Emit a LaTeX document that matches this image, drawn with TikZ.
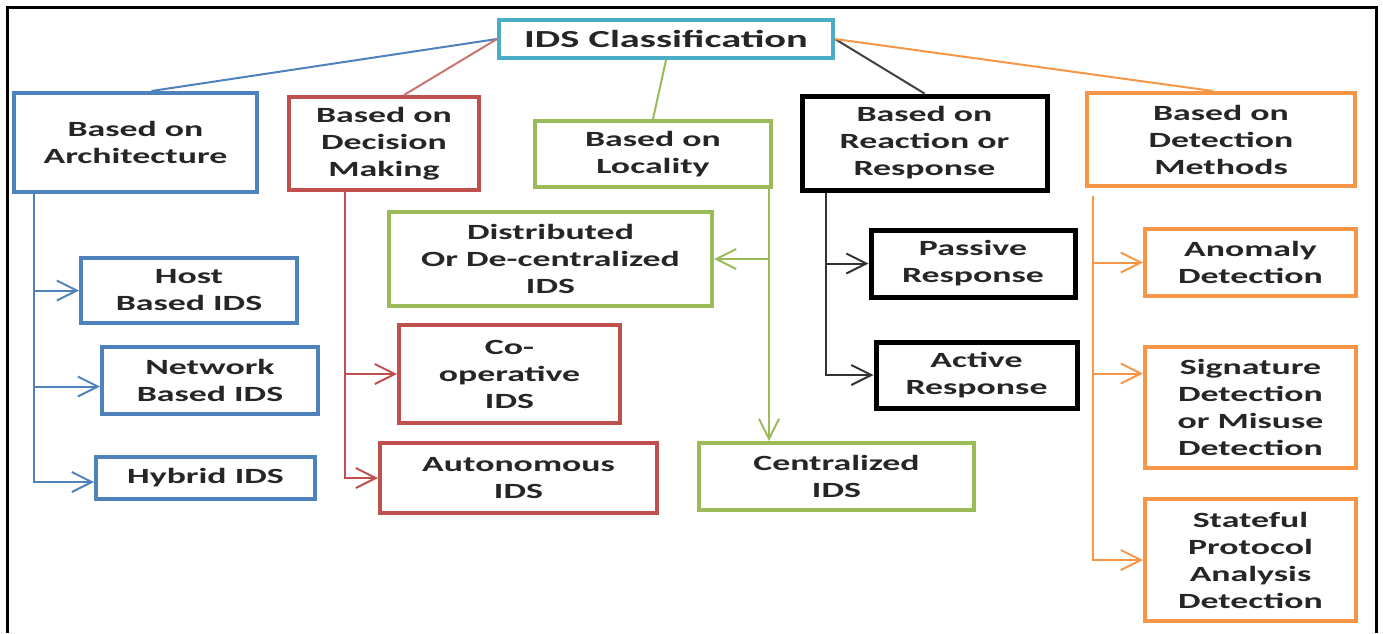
\documentclass[tikz,border=0pt]{standalone}
\usepackage{fontspec}
\setmainfont{Carlito}[FakeStretch=1.65]
\usetikzlibrary{arrows.meta}
\definecolor{archblue}{HTML}{4F81BD}
\definecolor{decred}{HTML}{C0504D}
\definecolor{locgreen}{HTML}{9BBB59}
\definecolor{detorange}{HTML}{F79646}
\definecolor{rootcyan}{HTML}{4BACC6}

\begin{document}
\begin{tikzpicture}[x=0.5pt, y=-0.5pt,
    box/.style={draw, line width=2pt, align=center, inner sep=0pt, text=black!85,
        font=\bfseries\fontsize{10.85}{13.5}\selectfont},
    link/.style={line width=1pt},
    tip/.style={link, -{Straight Barb[length=10pt,width=10pt]}}]
    \useasboundingbox (0,0) rectangle (1383,633);
    \draw[line width=1.5pt] (7,633) -- (7,7) -- (1376,7) -- (1376,633);

    % root and the five groups
    \node[box, draw=rootcyan, minimum width=167pt, minimum height=19pt,
          font=\bfseries\fontsize{12.25}{14}\selectfont] (root) at (666,39) {IDS Classification};
    \node[box, draw=archblue, minimum width=121.5pt, minimum height=49.5pt] (arch) at (135.5,142.5) {Based on\\Architecture};
    \node[box, draw=decred, minimum width=95pt, minimum height=46.5pt] (dec) at (384,143.5) {Based on\\Decision\\Making};
    \node[box, draw=locgreen, minimum width=118pt, minimum height=33pt] (loc) at (653,154) {Based on\\Locality};
    \node[box, draw=black, line width=2.5pt, minimum width=122.5pt, minimum height=47pt] (react) at (924.5,143) {Based on\\Reaction or\\Response};
    \node[box, draw=detorange, minimum width=134pt, minimum height=46.5pt] (detm) at (1221,139.5) {Based on\\Detection\\Methods};

    % leaves
    \node[box, draw=archblue, minimum width=108pt, minimum height=32.5pt] (host) at (189,290.5) {Host\\Based IDS};
    \node[box, draw=archblue, minimum width=108pt, minimum height=33.5pt] (net) at (210,380.5) {Network\\Based IDS};
    \node[box, draw=archblue, minimum width=109.5pt, minimum height=21pt] (hyb) at (205.5,478) {Hybrid IDS};
    \node[box, draw=locgreen, minimum width=161.5pt, minimum height=47pt] (dist) at (550.5,259) {Distributed\\Or De-centralized\\IDS};
    \node[box, draw=decred, minimum width=110.5pt, minimum height=49pt] (coop) at (509.5,374) {Co-\\operative\\IDS};
    \node[box, draw=decred, minimum width=138.5pt, minimum height=35pt] (auto) at (518.5,478) {Autonomous\\IDS};
    \node[box, draw=locgreen, minimum width=137.5pt, minimum height=33.5pt] (cent) at (836.5,476.5) {Centralized\\IDS};
    \node[box, draw=black, line width=2.5pt, minimum width=102pt, minimum height=33.5pt] (pass) at (973,263.5) {Passive\\Response};
    \node[box, draw=black, line width=2.5pt, minimum width=100.5pt, minimum height=33pt] (act) at (976.5,375) {Active\\Response};
    \node[box, draw=detorange, minimum width=105.5pt, minimum height=33.5pt] (anom) at (1250.5,262.5) {Anomaly\\Detection};
    \node[box, draw=detorange, minimum width=105.5pt, minimum height=60.5pt] (sig) at (1250.5,407.5) {Signature\\Detection\\or Misuse\\Detection};
    \node[box, draw=detorange, minimum width=105.5pt, minimum height=61pt] (stat) at (1250.5,560) {Stateful\\Protocol\\Analysis\\Detection};

    % links from the root
    \draw[link, archblue] (root.west) -- ([xshift=8pt]arch.north);
    \draw[link, decred!80] (root.west) -- ([xshift=10pt]dec.north);
    \draw[link, locgreen] (root.south) -- (loc.north);
    \draw[link, black!75] (root.east) -- (react.north);
    \draw[link, detorange] (root.east) -- ([xshift=-4pt]detm.north);

    % branches
    \coordinate (archT) at ([xshift=11pt]arch.south west);
    \draw[tip, archblue] (archT) |- (host.west);
    \draw[tip, archblue] (archT) |- ([yshift=-3pt]net.west);
    \draw[tip, archblue] (archT) |- ([yshift=-2pt]hyb.west);
    \coordinate (decT) at ([xshift=29pt]dec.south west);
    \foreach \n in {coop,auto}
        \draw[tip, decred] (decT) |- (\n.west);
    \coordinate (locT) at ([xshift=-2pt]loc.south east);
    \draw[tip, locgreen] (locT) -- (locT |- cent.north);
    \draw[tip, locgreen] (locT) |- (dist.east);
    \coordinate (reactT) at ([xshift=13pt]react.south west);
    \foreach \n in {pass,act}
        \draw[tip, black!80] (reactT) |- (\n.west);
    \coordinate (detT) at ([xshift=4pt,yshift=-4pt]detm.south west);
    \draw[tip, detorange] (detT) |- (anom.west);
    \draw[tip, detorange] (detT) |- ([yshift=17pt]sig.west);
    \draw[tip, detorange] (detT) |- (stat.west);
\end{tikzpicture}
\end{document}
